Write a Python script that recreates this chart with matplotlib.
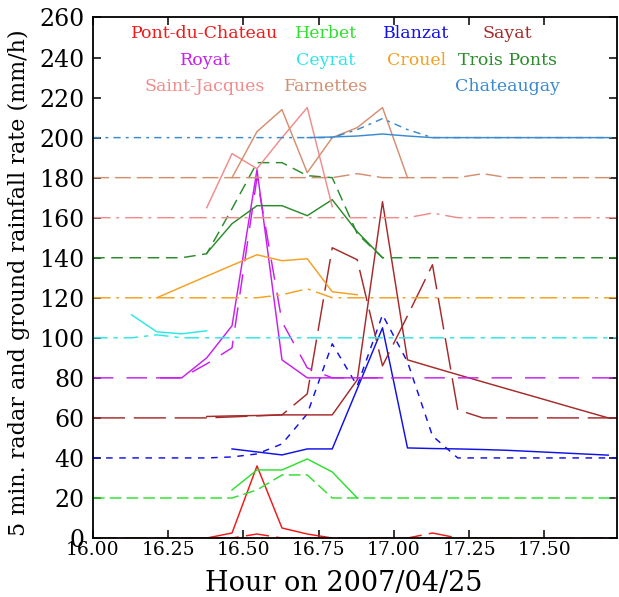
import numpy as np
import matplotlib
matplotlib.use('Agg')
import matplotlib.pyplot as plt

n = np.nan

# 5-minute time steps (decimal hours)
hours = [16.045, 16.128, 16.212, 16.295, 16.378, 16.462, 16.545, 16.628, 16.712, 16.795, 16.878,
         16.962, 17.045, 17.128, 17.212, 17.295, 17.378, 17.462, 17.545, 17.628, 17.712]

names = ['Pont-du-Chateau', 'Herbet', 'Blanzat', 'Sayat', 'Royat', 'Ceyrat', 'Crouel',
         'Trois Ponts', 'Saint-Jacques', 'Farnettes', 'Chateaugay']
offsets = [0, 20, 40, 60, 80, 100, 120, 140, 160, 180, 200]

# ground gauge rates (mm/h)
pdc_gauge = [n, n, n, 0, 0, 2.5, 36, 5, 2, 0, n, n, n, n, n, n, n, n, n, n, n]
herbet_gauge = [n, n, n, n, n, 4, 14, 14, 19.5, 13, 0, n, n, n, n, n, n, n, n, n, n]
blanzat_gauge = [n, n, n, n, n, 4.5, 3, 1.5, 4.5, 4.5, 34.5, 65, 5, 4.7, 4.5, 4.2, 3.8, 3.2, 2.6, 2.0, 1.4]
sayat_gauge = [n, n, n, n, 0.7, 1, 1.2, 1.5, 1.5, 1.5, 19, 108, 29, 25.3, 21.6, 18, 14.4, 10.8, 7.2, 3.6, 0]
royat_gauge = [n, n, 0, 0, 10, 26, 104, 9, 0, 0, 0, 0, n, n, n, n, n, n, n, n, n]
ceyrat_gauge = [n, 11.5, 3, 2, 3.5, n, n, n, n, n, n, n, n, n, n, n, n, n, n, n, n]
crouel_gauge = [n, n, 0, 5.4, 10.8, 16.2, 21.5, 18.5, 19.5, 3, 1.5, n, n, n, n, n, n, n, n, n, n]
trois_gauge = [n, n, n, n, 2.3, 17, 26, 26, 21, 29, 13, 0, n, n, n, n, n, n, n, n, n]
stjacques_gauge = [n, n, n, n, 5, 32, 24.5, 40, 55, 5.5, n, n, n, n, n, n, n, n, n, n, n]
farnettes_gauge = [n, n, n, n, n, 0, 23, 34, 2.5, 20, 25, 35, 0, n, n, n, n, n, n, n, n]
chateaugay_gauge = [n, n, n, n, n, n, n, n, 0, 0.3, 0.8, 1.8, 0.8, 0, 0, 0, 0, 0, 0, 0, 0]

# 5 min radar rates (mm/h)
pdc_radar = [0, 0, 0, 0, 0, 0, 2, 0, 0, 0, 0, 0, 0, 2.5, 0, 0, 0, 0, 0, 0, 0]
herbet_radar = [0, 0, 0, 0, 0, 0, 4, 11.5, 11.5, 0, 0, 0, 0, 0, 0, 0, 0, 0, 0, 0, 0]
blanzat_radar = [0, 0, 0, 0, 0, 0.5, 2, 7, 22, 57, 36, 71.5, 48, 11, 0, 0, 0, 0, 0, 0, 0]
sayat_radar = [0, 0, 0, 0, 0, 0.5, 1, 1.5, 12, 85, 79, 26, 51, 76.5, 4, 0, 0, 0, 0, 0, 0]
royat_radar = [0, 0, 0, 0, 7, 15, 100, 28, 5, 0, 0, 0, 0, 0, 0, 0, 0, 0, 0, 0, 0]
ceyrat_radar = [0, 0, 1.5, 0, 0, 0, 0, 0, 0, 0, 0, 0, 0, 0, 0, 0, 0, 0, 0, 0, 0]
crouel_radar = [0, 0, 0, 0, 0, 0, 0, 1.5, 4.5, 0, 0, 0, 0, 0, 0, 0, 0, 0, 0, 0, 0]
trois_radar = [0, 0, 0, 0, 2, 24.5, 47.5, 47.5, 41, 40, 12, 0, 0, 0, 0, 0, 0, 0, 0, 0, 0]
stjacques_radar = [0, 0, 0, 0, 0, 0, 0, 0, 0, 0, 0, 0, 0, 2.3, 0, 0, 0, 0, 0, 0, 0]
farnettes_radar = [0, 0, 0, 0, 0, 0, 0, 0, 0, 0, 2, 0, 0, 0, 0, 2, 0, 0, 0, 0, 0]
chateaugay_radar = [0, 0, 0, 0, 0, 0, 0, 0, 0, 0, 4, 9.5, 4, 0, 0, 0, 0, 0, 0, 0, 0]

gauges = [pdc_gauge, herbet_gauge, blanzat_gauge, sayat_gauge, royat_gauge, ceyrat_gauge,
          crouel_gauge, trois_gauge, stjacques_gauge, farnettes_gauge, chateaugay_gauge]
radars = [pdc_radar, herbet_radar, blanzat_radar, sayat_radar, royat_radar, ceyrat_radar,
          crouel_radar, trois_radar, stjacques_radar, farnettes_radar, chateaugay_radar]

colors = ['#f01818', '#2ee02e', '#1010e8', '#a52a2a', '#c81ef0', '#2ae8e8', '#f5a020',
          '#2a8c2a', '#f08c8c', '#d48f70', '#3a8ad0']
dashes = [(16, 5), (8, 3.5), (4.5, 4.5), (22, 6), (14, 9), (10, 4, 3, 4), (12, 4, 2, 4),
          (8, 4.5), (12, 4, 2, 4), (11, 4), (5, 3.5, 2, 3.5)]
# label slots: (column, row)
slots = [(0, 0), (1, 0), (2, 0), (3, 0), (0, 1), (1, 1), (2, 1), (3, 1), (0, 2), (1, 2), (3, 2)]
col_x = [0.2137, 0.4447, 0.617, 0.791]
row_y = [0.9697, 0.9183, 0.867]

plt.rcParams['font.family'] = 'DejaVu Serif'
XMIN, XMAX = 16.0, 17.741

fig = plt.figure(figsize=(6.19, 5.97), dpi=100)
ax = fig.add_axes([0.1502, 0.0988, 0.8465, 0.8719])

x_ext = np.r_[XMIN, hours, XMAX]
for i in range(len(names)):
    r = np.array(radars[i], dtype=float)
    g = np.array(gauges[i], dtype=float)
    ax.plot(x_ext, np.r_[r[0], r, r[-1]] + offsets[i], color=colors[i], lw=1.05,
            linestyle=(0, dashes[i]))
    ax.plot(hours, g + offsets[i], color=colors[i], lw=1.05)
    c, rw = slots[i]
    ax.text(col_x[c], row_y[rw], names[i], color=colors[i], fontsize=12.5,
            ha='center', va='center', transform=ax.transAxes)

ax.set_xlim(XMIN, XMAX)
ax.set_ylim(0, 260)
ax.set_xticks([16.0, 16.25, 16.5, 16.75, 17.0, 17.25, 17.5])
ax.set_xticklabels(['16.00', '16.25', '16.50', '16.75', '17.00', '17.25', '17.50'])
ax.set_yticks(range(0, 261, 20))
ax.tick_params(direction='in', length=6, width=1.1, top=True, right=True)
ax.tick_params(axis='y', labelsize=17, pad=6)
ax.tick_params(axis='x', labelsize=13.5, pad=2)
for s in ax.spines.values():
    s.set_linewidth(1.3)

ax.set_xlabel('Hour on 2007/04/25', fontsize=19.5)
ax.xaxis.set_label_coords(0.479, -0.062)
ax.set_ylabel('5 min. radar and ground rainfall rate (mm/h)', fontsize=16)
ax.yaxis.set_label_coords(-0.12, 0.49)

fig.savefig('out.png', dpi=100)
